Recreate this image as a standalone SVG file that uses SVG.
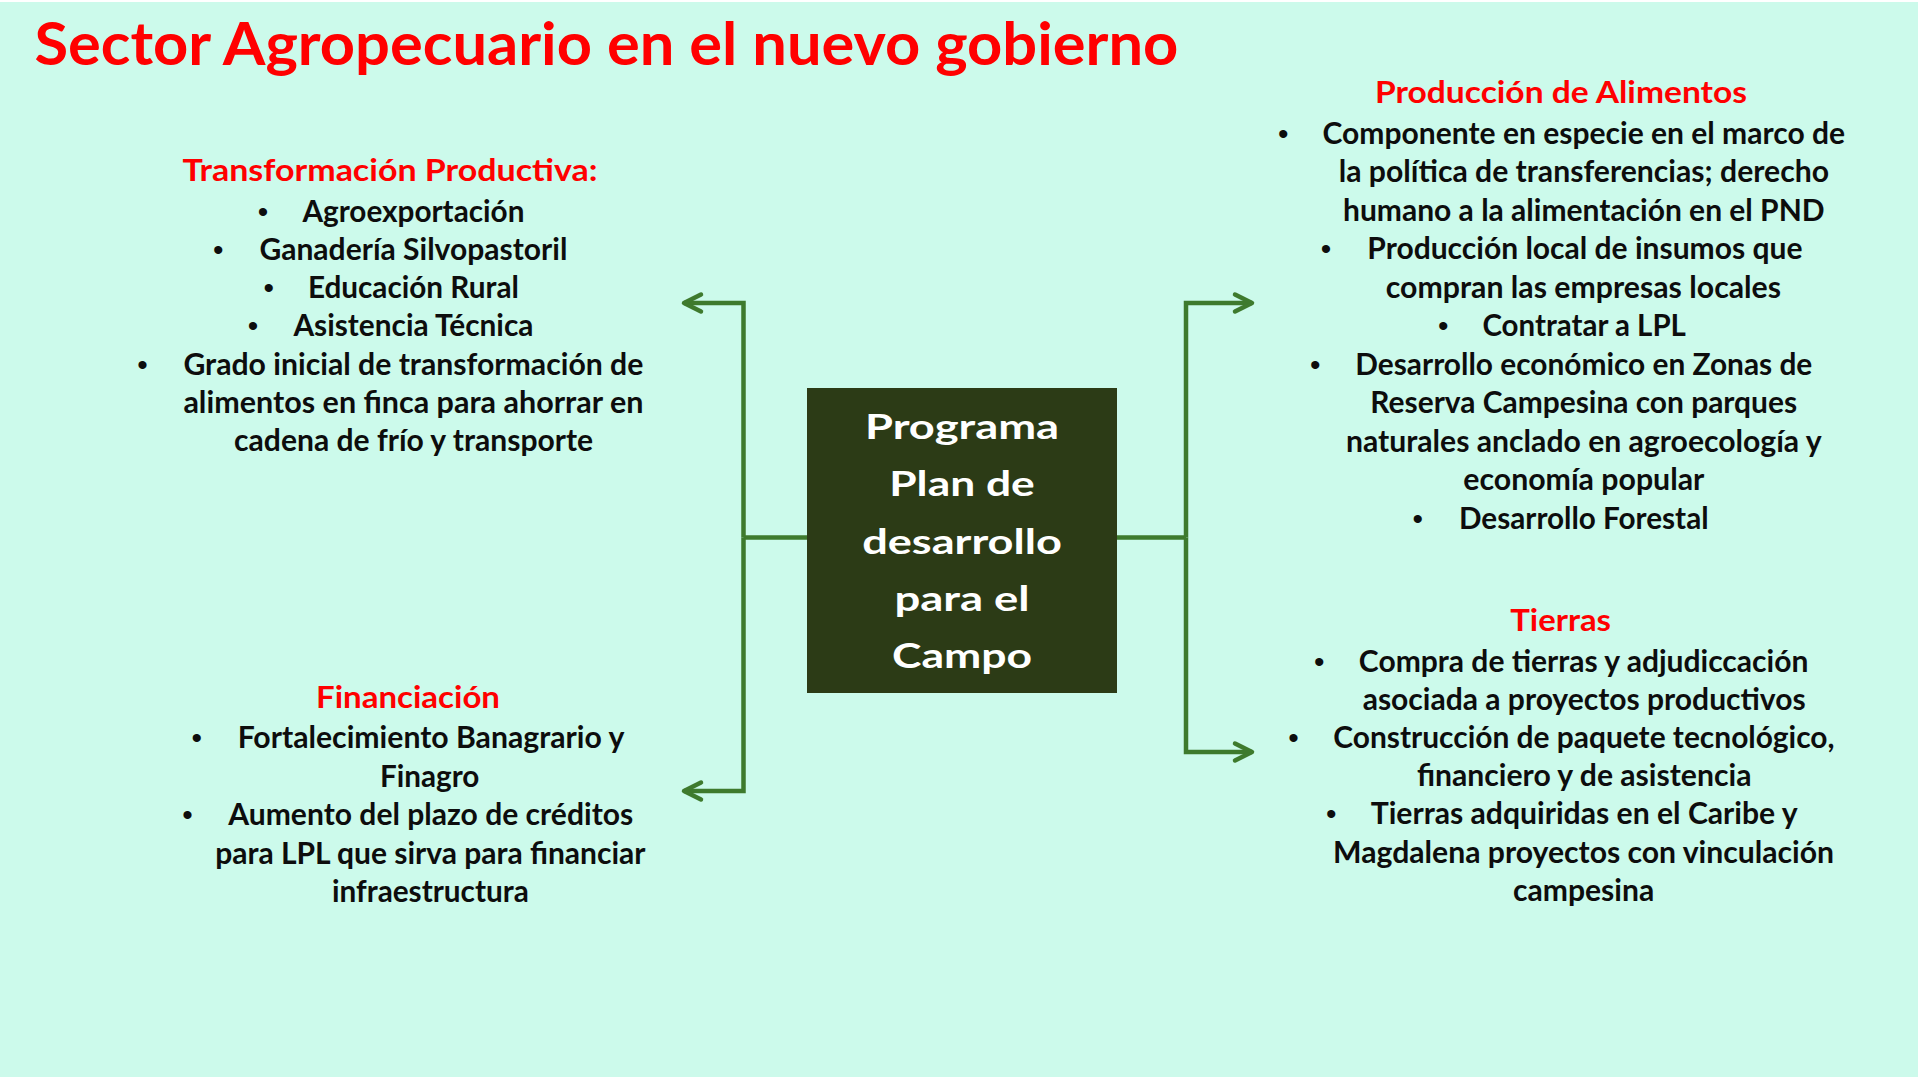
<svg xmlns="http://www.w3.org/2000/svg" width="1919" height="1080" viewBox="0 0 1919 1080">
<style>
.bg{fill:#CCFAEB}
.ttl{font-family:Lato,"Open Sans","Liberation Sans",sans-serif;font-weight:700;font-size:59px;fill:#FF0000}
.h{font-family:Lato,"Open Sans","Liberation Sans",sans-serif;font-weight:700;font-size:30px;fill:#FF0000;text-anchor:middle}
.t{font-family:Lato,"Open Sans","Liberation Sans",sans-serif;font-weight:700;font-size:30px;fill:#0D0D0D;text-anchor:middle}
.b{font-family:"Liberation Sans",Arial,sans-serif;font-size:30px;fill:#0D0D0D;text-anchor:middle}
.c{font-family:Lato,"Open Sans","Liberation Sans",sans-serif;font-weight:700;font-size:34px;fill:#FFFFFF;text-anchor:middle}
.box{fill:#2C3B16}
.conn{fill:none;stroke:#3E7A2D;stroke-width:4.5}
</style>
<defs>
<marker id="arr" markerUnits="userSpaceOnUse" markerWidth="26" markerHeight="26" viewBox="-22 -13 26 26" refX="0" refY="0" orient="auto" overflow="visible">
<path d="M-17,-8.5 L0,0 L-17,8.5" fill="none" stroke="#3E7A2D" stroke-width="4.5" stroke-linecap="round" stroke-linejoin="round"/>
</marker>
</defs>
<rect x="0" y="0" width="1919" height="1080" fill="#FFFFFF"/>
<rect class="bg" x="0" y="2" width="1918" height="1075"/>

<g id="title">
<text class="ttl" x="34.4" y="64.5" textLength="1144" lengthAdjust="spacingAndGlyphs">Sector Agropecuario en el nuevo gobierno</text>
</g>

<g id="connectors">
<path class="conn" d="M807,537.5 H743.5"/>
<path class="conn" d="M743.5,537.5 V303 H684" marker-end="url(#arr)"/>
<path class="conn" d="M743.5,537.5 V791 H684" marker-end="url(#arr)"/>
<path class="conn" d="M1117,537.5 H1186"/>
<path class="conn" d="M1186,537.5 V303 H1252" marker-end="url(#arr)"/>
<path class="conn" d="M1186,537.5 V752 H1252" marker-end="url(#arr)"/>
</g>

<g id="center">
<rect class="box" x="807" y="388" width="310" height="305"/>
<text class="c" x="962" y="439" textLength="194" lengthAdjust="spacingAndGlyphs">Programa</text>
<text class="c" x="962" y="496.3" textLength="145.5" lengthAdjust="spacingAndGlyphs">Plan de</text>
<text class="c" x="962" y="553.6" textLength="199.7" lengthAdjust="spacingAndGlyphs">desarrollo</text>
<text class="c" x="962" y="610.9" textLength="135.2" lengthAdjust="spacingAndGlyphs">para el</text>
<text class="c" x="962" y="668.2" textLength="140" lengthAdjust="spacingAndGlyphs">Campo</text>
</g>

<g id="transformacion">
<text class="h" x="390" y="180.5" textLength="415" lengthAdjust="spacingAndGlyphs">Transformación Productiva:</text>
<text class="b" x="263" y="221.5">•</text>
<text class="t" x="413.4" y="221.5" textLength="222" lengthAdjust="spacingAndGlyphs">Agroexportación</text>
<text class="b" x="218.3" y="259.8">•</text>
<text class="t" x="413.4" y="259.8" textLength="308" lengthAdjust="spacingAndGlyphs">Ganadería Silvopastoril</text>
<text class="b" x="268.8" y="298.1">•</text>
<text class="t" x="413.4" y="298.1" textLength="211" lengthAdjust="spacingAndGlyphs">Educación Rural</text>
<text class="b" x="253" y="336.4">•</text>
<text class="t" x="413.4" y="336.4" textLength="240" lengthAdjust="spacingAndGlyphs">Asistencia Técnica</text>
<text class="b" x="142.4" y="374.7">•</text>
<text class="t" x="413.4" y="374.7" textLength="460" lengthAdjust="spacingAndGlyphs">Grado inicial de transformación de</text>
<text class="t" x="413.4" y="413" textLength="460" lengthAdjust="spacingAndGlyphs">alimentos en finca para ahorrar en</text>
<text class="t" x="413.6" y="451.3" textLength="359" lengthAdjust="spacingAndGlyphs">cadena de frío y transporte</text>
</g>

<g id="financiacion">
<text class="h" x="408" y="708.3" textLength="184" lengthAdjust="spacingAndGlyphs">Financiación</text>
<text class="b" x="196.7" y="748">•</text>
<text class="t" x="431" y="748" textLength="386.7" lengthAdjust="spacingAndGlyphs">Fortalecimiento Banagrario y</text>
<text class="t" x="429.7" y="786.5" textLength="99.4" lengthAdjust="spacingAndGlyphs">Finagro</text>
<text class="b" x="187.6" y="825">•</text>
<text class="t" x="430.7" y="825" textLength="405" lengthAdjust="spacingAndGlyphs">Aumento del plazo de créditos</text>
<text class="t" x="430.3" y="863.5" textLength="430.3" lengthAdjust="spacingAndGlyphs">para LPL que sirva para financiar</text>
<text class="t" x="430.4" y="902" textLength="196.8" lengthAdjust="spacingAndGlyphs">infraestructura</text>
</g>

<g id="produccion">
<text class="h" x="1561" y="102.7" textLength="372" lengthAdjust="spacingAndGlyphs">Producción de Alimentos</text>
<text class="b" x="1283.3" y="143.5">•</text>
<text class="t" x="1583.8" y="143.5" textLength="522.5" lengthAdjust="spacingAndGlyphs">Componente en especie en el marco de</text>
<text class="t" x="1583.9" y="182" textLength="490.3" lengthAdjust="spacingAndGlyphs">la política de transferencias; derecho</text>
<text class="t" x="1583.8" y="220.5" textLength="481.6" lengthAdjust="spacingAndGlyphs">humano a la alimentación en el PND</text>
<text class="b" x="1326" y="259">•</text>
<text class="t" x="1584.9" y="259" textLength="435.2" lengthAdjust="spacingAndGlyphs">Producción local de insumos que</text>
<text class="t" x="1583.4" y="297.5" textLength="395.3" lengthAdjust="spacingAndGlyphs">compran las empresas locales</text>
<text class="b" x="1443.3" y="336">•</text>
<text class="t" x="1584.2" y="336" textLength="203.5" lengthAdjust="spacingAndGlyphs">Contratar a LPL</text>
<text class="b" x="1315.3" y="374.5">•</text>
<text class="t" x="1583.8" y="374.5" textLength="457" lengthAdjust="spacingAndGlyphs">Desarrollo económico en Zonas de</text>
<text class="t" x="1583.7" y="413" textLength="426.7" lengthAdjust="spacingAndGlyphs">Reserva Campesina con parques</text>
<text class="t" x="1583.8" y="451.5" textLength="475.7" lengthAdjust="spacingAndGlyphs">naturales anclado en agroecología y</text>
<text class="t" x="1583.8" y="490" textLength="241" lengthAdjust="spacingAndGlyphs">economía popular</text>
<text class="b" x="1417.7" y="528.5">•</text>
<text class="t" x="1583.8" y="528.5" textLength="249.6" lengthAdjust="spacingAndGlyphs">Desarrollo Forestal</text>
</g>

<g id="tierras">
<text class="h" x="1560.7" y="631" textLength="100.7" lengthAdjust="spacingAndGlyphs">Tierras</text>
<text class="b" x="1319.3" y="671.5">•</text>
<text class="t" x="1583.6" y="671.5" textLength="449.5" lengthAdjust="spacingAndGlyphs">Compra de tierras y adjudiccación</text>
<text class="t" x="1584.2" y="709.7" textLength="443" lengthAdjust="spacingAndGlyphs">asociada a proyectos productivos</text>
<text class="b" x="1293.6" y="747.9">•</text>
<text class="t" x="1583.9" y="747.9" textLength="501.3" lengthAdjust="spacingAndGlyphs">Construcción de paquete tecnológico,</text>
<text class="t" x="1584.2" y="786.1" textLength="334.5" lengthAdjust="spacingAndGlyphs">financiero y de asistencia</text>
<text class="b" x="1331.2" y="824.3">•</text>
<text class="t" x="1584.2" y="824.3" textLength="427" lengthAdjust="spacingAndGlyphs">Tierras adquiridas en el Caribe y</text>
<text class="t" x="1583.6" y="862.5" textLength="501" lengthAdjust="spacingAndGlyphs">Magdalena proyectos con vinculación</text>
<text class="t" x="1583.6" y="900.7" textLength="141.2" lengthAdjust="spacingAndGlyphs">campesina</text>
</g>
</svg>
